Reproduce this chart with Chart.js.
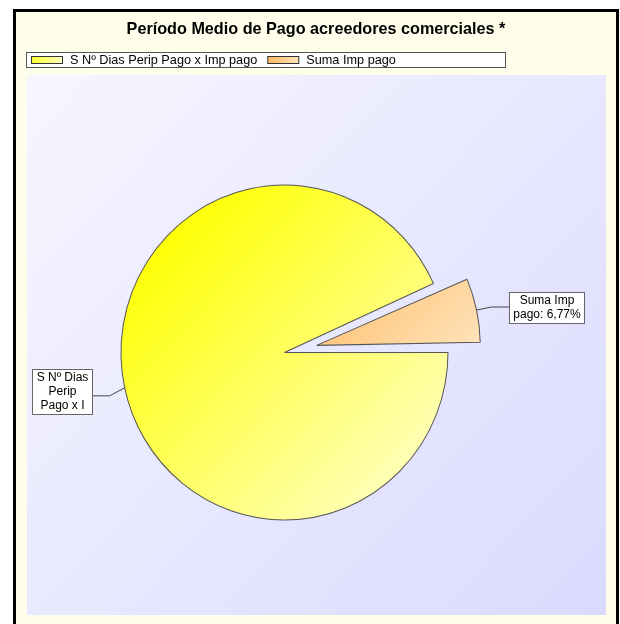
<!DOCTYPE html>
<html>
<head>
<meta charset="utf-8">
<script src="https://cdn.jsdelivr.net/npm/chart.js@4/dist/chart.umd.min.js"></script>
<style>
  html, body { margin: 0; padding: 0; background: #ffffff; }
  #pieChart { display: block; }
</style>
</head>
<body>
<canvas id="pieChart" width="620" height="624"></canvas>
<script>
// data
const categories = ['S Nº Dias Perip Pago x Imp pago', 'Suma Imp pago'];
const values = [93.23, 6.77];
const explode = [0, 33];
const calloutText = [['S Nº Dias', 'Perip', 'Pago x I'], ['Suma Imp', 'pago: ']];
const titleText = 'Período Medio de Pago acreedores comerciales *';

const FONT = '"Liberation Sans", Arial, sans-serif';
const RADIUS = 163.5;
const SCALE_Y = 1.024;   // the pie is drawn a touch taller than wide

// gradient stops per slice (diagonal across the pie box)
const sliceStops = [
    [[0.12, '#ffff00'], [1, '#ffffd8']],
    [[0.5, '#ffc880'], [0.78, '#ffe6c2']]
];
const swatchColors = [['#ffff30', '#ffffc0'], ['#ffb860', '#ffe4b8']];

const total = values.reduce((a, b) => a + b, 0);

// Chart.js shifts an arc by offset/4 and also grows its radius by
// offset/4 * (1 - sin(circumference)); shrink it back afterwards
const offsets = explode.map(e => e * 4);
const radiusFix = values.map((v, i) => {
    const circ = v / total * Math.PI * 2;
    return explode[i] * (1 - Math.sin(Math.min(Math.PI, circ)));
});

function pieCenter(chart) {
    const a = chart.chartArea;
    return { x: (a.left + a.right) / 2, y: (a.top + a.bottom) / 2 };
}

function sliceGradient(context) {
    const chart = context.chart;
    const stops = sliceStops[context.dataIndex];
    if (!chart.chartArea) return stops[0][1];
    const c = pieCenter(chart);
    const r = RADIUS;
    const g = chart.ctx.createLinearGradient(c.x - r, c.y - r, c.x + r, c.y + r);
    stops.forEach(s => g.addColorStop(s[0], s[1]));
    return g;
}

const explodePlugin = {
    id: 'explodeFix',
    afterDatasetUpdate(chart, args) {
        const meta = chart.getDatasetMeta(args.index);
        meta.data.forEach((arc, i) => {
            arc.outerRadius = RADIUS - radiusFix[i];
        });
    },
    beforeDatasetsDraw(chart) {
        const ctx = chart.ctx;
        const c = pieCenter(chart);
        ctx.save();
        ctx.translate(c.x, c.y);
        ctx.scale(1, SCALE_Y);
        ctx.translate(-c.x, -c.y);
    },
    afterDatasetsDraw(chart) {
        chart.ctx.restore();
    }
};

// frame, plot background, title and legend
const framePlugin = {
    id: 'frame',
    beforeDraw(chart) {
        const ctx = chart.ctx;
        ctx.save();
        ctx.fillStyle = '#ffffff';
        ctx.fillRect(0, 0, 620, 624);

        // outer frame
        ctx.fillStyle = '#fefeeb';
        ctx.fillRect(13, 9, 606, 620);
        ctx.strokeStyle = '#000000';
        ctx.lineWidth = 3;
        ctx.strokeRect(14.5, 10.5, 603, 620);

        // plot area
        const g = ctx.createLinearGradient(27, 75, 606, 615);
        g.addColorStop(0, '#f6f6ff');
        g.addColorStop(1, '#dadaff');
        ctx.fillStyle = g;
        ctx.fillRect(27, 75, 579, 540);

        // title
        ctx.fillStyle = '#000000';
        ctx.font = 'bold 16.2px ' + FONT;
        ctx.textAlign = 'center';
        ctx.textBaseline = 'middle';
        ctx.fillText(titleText, 316, 30);

        // legend
        ctx.fillStyle = '#ffffff';
        ctx.fillRect(26.5, 52.5, 479, 15);
        ctx.strokeStyle = '#555555';
        ctx.lineWidth = 1;
        ctx.strokeRect(26.5, 52.5, 479, 15);
        ctx.font = '12.7px ' + FONT;
        ctx.textAlign = 'left';
        let lx = 31;
        categories.forEach((name, i) => {
            const sg = ctx.createLinearGradient(lx, 0, lx + 31, 0);
            sg.addColorStop(0, swatchColors[i][0]);
            sg.addColorStop(1, swatchColors[i][1]);
            ctx.fillStyle = sg;
            ctx.fillRect(lx + 0.5, 56.5, 31, 7);
            ctx.strokeStyle = '#333333';
            ctx.strokeRect(lx + 0.5, 56.5, 31, 7);
            ctx.fillStyle = '#000000';
            ctx.fillText(name, lx + 39, 60.5);
            lx += 39 + ctx.measureText(name).width + 10;
        });
        ctx.restore();
    }
};

// callout boxes with leader lines
const calloutPlugin = {
    id: 'callouts',
    afterDatasetsDraw(chart) {
        const ctx = chart.ctx;
        const arcs = chart.getDatasetMeta(0).data;
        ctx.save();
        ctx.font = '12px ' + FONT;
        ctx.textAlign = 'center';
        ctx.textBaseline = 'middle';
        arcs.forEach((arc, i) => {
            const mid = (arc.startAngle + arc.endAngle) / 2;
            const off = explode[i];
            const ax = arc.x + Math.cos(mid) * (RADIUS + off);
            const ay = arc.y + Math.sin(mid) * (RADIUS + off) * SCALE_Y;
            const lines = calloutText[i].slice();
            if (i === 1) {
                lines[1] += (values[i] / total * 100).toFixed(2).replace('.', ',') + '%';
            }
            const w = Math.round(Math.max(...lines.map(t => ctx.measureText(t).width)) + 8);
            const h = lines.length * 14 + 3;
            const right = Math.cos(mid) >= 0;
            let bx, by, ex, ey, kx;
            if (right) {
                bx = Math.round(ax + 32);
                by = Math.round(ay - 3 - h / 2);
                ex = bx; ey = ay - 3; kx = ax + 15;
            } else {
                bx = Math.round(ax - 33 - w);
                by = Math.round(ay + 4 - h / 2);
                ex = bx + w; ey = ay + 8; kx = ax - 15;
            }
            ctx.strokeStyle = '#444444';
            ctx.lineWidth = 1;
            ctx.beginPath();
            ctx.moveTo(ax, ay);
            ctx.lineTo(kx, ey);
            ctx.lineTo(ex, ey);
            ctx.stroke();
            ctx.fillStyle = '#ffffff';
            ctx.fillRect(bx + 0.5, by + 0.5, w, h);
            ctx.strokeStyle = '#666666';
            ctx.strokeRect(bx + 0.5, by + 0.5, w, h);
            ctx.fillStyle = '#000000';
            lines.forEach((t, k) => {
                ctx.fillText(t, bx + 0.5 + w / 2, by + 9 + k * 14);
            });
        });
        ctx.restore();
    }
};

new Chart(document.getElementById('pieChart'), {
    type: 'pie',
    data: {
        labels: categories,
        datasets: [{
            data: values,
            backgroundColor: sliceGradient,
            borderColor: '#555555',
            borderWidth: 1,
            offset: offsets
        }]
    },
    options: {
        responsive: false,
        animation: false,
        devicePixelRatio: 1,
        rotation: 90,
        radius: RADIUS,
        layout: {
            padding: { left: 102, top: 171, right: 153, bottom: 90 }
        },
        plugins: {
            legend: { display: false },
            title: { display: false },
            tooltip: { enabled: false }
        }
    },
    plugins: [explodePlugin, framePlugin, calloutPlugin]
});
</script>
</body>
</html>
